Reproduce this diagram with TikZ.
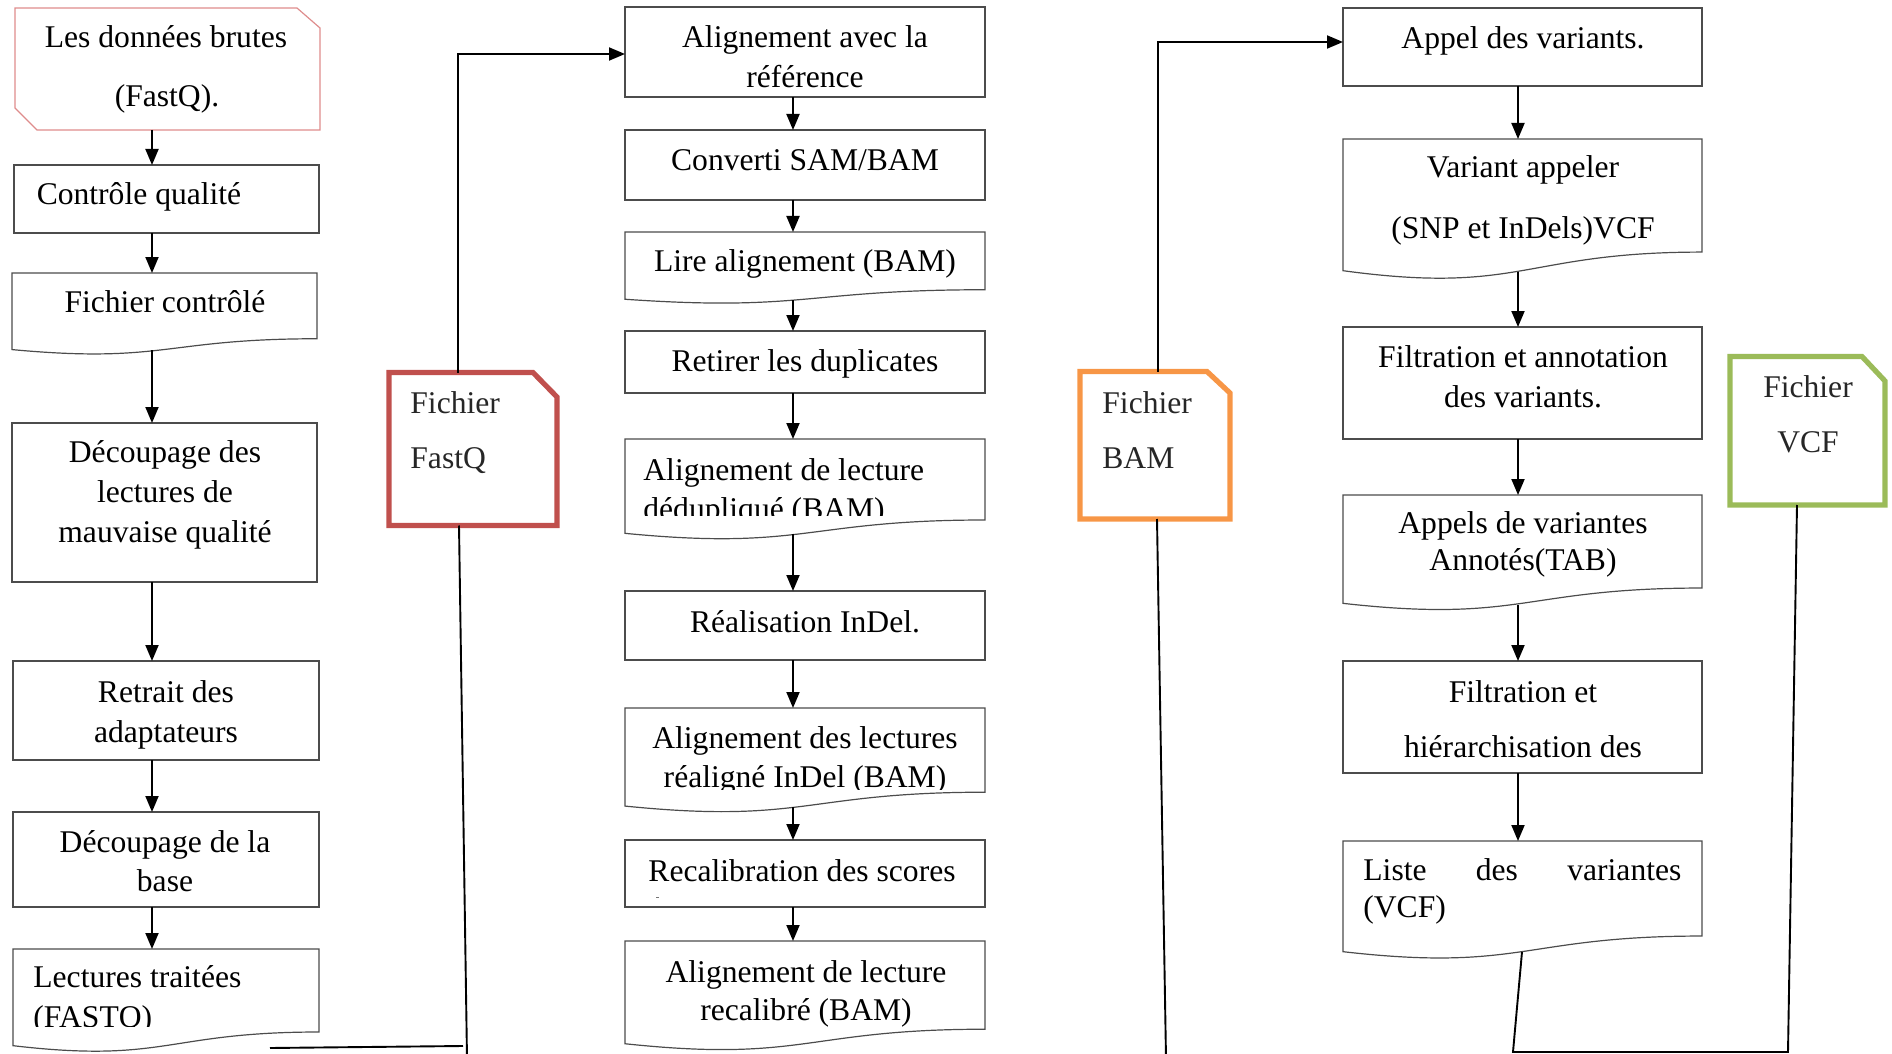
\documentclass[tikz,border=0pt]{standalone}
\usepackage{fontspec}
\setmainfont{Liberation Serif}
\usetikzlibrary{arrows.meta}

\definecolor{fqred}{HTML}{C0504D}
\definecolor{bamorange}{HTML}{F79646}
\definecolor{vcfgreen}{HTML}{9BBB59}
\definecolor{srcpink}{HTML}{DE8C8C}

\tikzset{
  pline/.style={draw=black!70, line width=0.6pt},
  pbox/.style={pline, rectangle, inner sep=0pt, outer sep=0pt},
  conn/.style={line width=0.95pt, black},
  arr/.style={conn, -{Triangle[width=6.5pt,length=8pt]}},
  txt/.style={anchor=base, inner sep=0pt, text=black, font=\fontsize{15.8}{19}\selectfont},
  ftxt/.style={txt, anchor=base west, text=black!85},
  fileline/.style={draw=#1, line width=2.6pt, line join=miter}
}

% process box: name, x0, y0, x1, y1 (pixel units, y downwards)
\newcommand{\procbox}[5]{%
  \node[pbox, minimum width={(#4-#2)*0.5pt}, minimum height={(#5-#3)*0.5pt}]
    (#1) at ({(#2+#4)/2},{(#3+#5)/2}) {};}

% document box with wavy bottom: name, x0, y0, x1, height, x of the flow line
\newcommand{\docbox}[6]{%
  \draw[pline] (#2,#3) -- (#4,#3) -- (#4,{#3+0.802*#5})
    .. controls ({(#2+#4)/2},{#3+0.802*#5}) and ({(#2+#4)/2},{#3+1.107*#5})
    .. (#2,{#3+0.934*#5}) -- cycle;
  \coordinate (#1-in) at (#6,#3);
  \coordinate (#1-out) at (#6,{#3+0.945*#5});}

\begin{document}
\begin{tikzpicture}[x=0.5pt, y=-0.5pt]
\useasboundingbox (0,0) rectangle (1892,1054);

% ---------------- left column ----------------
\draw[draw=srcpink, line width=0.6pt] (15,8) -- (297,8) -- (320,28) -- (320,130)
  -- (37,130) -- (15,108) -- cycle;
\coordinate (n1-out) at (152,130);
\node[txt] (n1a) at (166,48) {Les données brutes};
\node[txt] (n1b) at (167,107) {(FastQ).};

\procbox{n2}{14}{165}{319}{233}
\node[txt] (n2a) at (139,205) {Contrôle qualité};

\docbox{n3}{12}{273}{317}{82}{152}
\node[txt] (n3a) at (165,313) {Fichier contrôlé};

\procbox{n4}{12}{423}{317}{582}
\node[txt] (n4a) at (165,462) {Découpage des};
\node[txt] (n4b) at (165,502) {lectures de};
\node[txt] (n4c) at (165,542) {mauvaise qualité};

\procbox{n5}{13}{661}{319}{760}
\node[txt] (n5a) at (166,702) {Retrait des};
\node[txt] (n5b) at (166,742) {adaptateurs};

\procbox{n6}{13}{812}{319}{907}
\node[txt] (n6a) at (165,852) {Découpage de la};
\node[txt] (n6b) at (165,891) {base};

\docbox{n7}{13}{949}{319}{103.5}{152}
\node[txt, anchor=base west] (n7a) at (33,987) {Lectures traitées};
\begin{scope}
  \clip (0,0) rectangle (1892,1026);
  \node[txt, anchor=base west] (n7b) at (33,1027) {(FASTQ)};
\end{scope}
\coordinate (n7-tail) at (270,1048);

\coordinate (lx) at (152,0);
\draw[arr] (n1-out) -- (lx |- n2.north);
\draw[arr] (lx |- n2.south) -- (n3-in);
\draw[arr] (n3-out) -- (lx |- n4.north);
\draw[arr] (lx |- n4.south) -- (lx |- n5.north);
\draw[arr] (lx |- n5.south) -- (lx |- n6.north);
\draw[arr] (lx |- n6.south) -- (n7-in);

% ---------------- FastQ file ----------------
\draw[fileline=fqred] (389,372.5) -- (533,372.5) -- (557,397) -- (557,525.5)
  -- (389,525.5) -- cycle;
\coordinate (fq-top) at (458,372.5);
\coordinate (fq-bot) at (459,525.5);
\coordinate (fq-foot) at (467,1058);
\coordinate (fq-join) at (463,1046);
\node[ftxt] (fqa) at (410,413) {Fichier};
\node[ftxt] (fqb) at (410,468) {FastQ};

% ---------------- middle column ----------------
\procbox{m1}{625}{7}{985}{97}
\node[txt] (m1a) at (805,48) {Alignement avec la};
\node[txt] (m1b) at (805,88) {référence};

\procbox{m2}{625}{130}{985}{200}
\node[txt] (m2a) at (805,170) {Converti SAM/BAM};

\docbox{m3}{625}{232}{985}{72}{793}
\node[txt] (m3a) at (805,271) {Lire alignement (BAM)};

\procbox{m4}{625}{331}{985}{393}
\node[txt] (m4a) at (805,371) {Retirer les duplicates};

\docbox{m5}{625}{439}{985}{101}{793}
\node[txt, anchor=base west] (m5a) at (643,480) {Alignement de lecture};
\begin{scope}
  \clip (0,0) rectangle (1892,515);
  \node[txt, anchor=base west] (m5b) at (643,519) {dédupliqué (BAM)};
\end{scope}

\procbox{m6}{625}{591}{985}{660}
\node[txt] (m6a) at (805,632) {Réalisation InDel.};

\docbox{m7}{625}{708}{985}{105}{793}
\node[txt] (m7a) at (805,748) {Alignement des lectures};
\begin{scope}
  \clip (0,0) rectangle (1892,789);
  \node[txt] (m7b) at (805,787) {réaligné InDel (BAM)};
\end{scope}

\procbox{m8}{625}{840}{985}{907}
\node[txt] (m8a) at (802,881) {Recalibration des scores};
\draw[black!55, line width=0.4pt] (656,897) -- (659,897);

\docbox{m9}{625}{941}{985}{110}{793}
\node[txt] (m9a) at (806,982) {Alignement de lecture};
\node[txt] (m9b) at (806,1020) {recalibré (BAM)};

\coordinate (mx) at (793,0);
\draw[arr] (mx |- m1.south) -- (mx |- m2.north);
\draw[arr] (mx |- m2.south) -- (m3-in);
\draw[arr] (m3-out) -- (mx |- m4.north);
\draw[arr] (mx |- m4.south) -- (m5-in);
\draw[arr] (m5-out) -- (mx |- m6.north);
\draw[arr] (mx |- m6.south) -- (m7-in);
\draw[arr] (m7-out) -- (mx |- m8.north);
\draw[arr] (mx |- m8.south) -- (m9-in);

% FastQ file feeding the alignment step
\draw[conn] (n7-tail) -- (fq-join);
\draw[conn] (fq-bot) -- (fq-foot);
\draw[arr] (fq-top) |- ([yshift=-1pt]m1.west);

% ---------------- BAM file ----------------
\draw[fileline=bamorange] (1080,371.5) -- (1207,371.5) -- (1230,393) -- (1230,519)
  -- (1080,519) -- cycle;
\coordinate (bam-top) at (1158,371.5);
\coordinate (bam-bot) at (1157,519);
\coordinate (bam-foot) at (1166,1058);
\node[ftxt] (bama) at (1102,413) {Fichier};
\node[ftxt] (bamb) at (1102,468) {BAM};

% ---------------- right column ----------------
\procbox{r1}{1343}{8}{1702}{86}
\node[txt] (r1a) at (1523,49) {Appel des variants.};

\docbox{r2}{1343}{139}{1702}{141}{1518}
\node[txt] (r2a) at (1523,177) {Variant appeler};
\node[txt] (r2b) at (1523,239) {(SNP et InDels)VCF};

\procbox{r3}{1343}{327}{1702}{439}
\node[txt] (r3a) at (1523,367) {Filtration et annotation};
\node[txt] (r3b) at (1523,407) {des variants.};

\docbox{r4}{1343}{495}{1702}{116}{1518}
\node[txt] (r4a) at (1523,533) {Appels de variantes};
\node[txt] (r4b) at (1523,570) {Annotés(TAB)};

\procbox{r5}{1343}{661}{1702}{773}
\node[txt] (r5a) at (1523,702) {Filtration et};
\node[txt] (r5b) at (1523,757) {hiérarchisation des};

\docbox{r6}{1343}{841}{1702}{118.5}{1518}
\node[txt, anchor=base west] (r6a) at (1363,880) {\hbox to 159pt{Liste\hfill des\hfill variantes}};
\node[txt, anchor=base west] (r6b) at (1363,917) {(VCF)};
\coordinate (r6-tail) at (1522,952);

\coordinate (rx) at (1518,0);
\draw[arr] (rx |- r1.south) -- (r2-in);
\draw[arr] (r2-out) -- (rx |- r3.north);
\draw[arr] (rx |- r3.south) -- (r4-in);
\draw[arr] (r4-out) -- (rx |- r5.north);
\draw[arr] (rx |- r5.south) -- (r6-in);

% BAM file feeding the variant calling
\draw[conn] (bam-bot) -- (bam-foot);
\draw[arr] (bam-top) |- ([yshift=2.5pt]r1.west);

% ---------------- VCF file ----------------
\draw[fileline=vcfgreen] (1730,356.5) -- (1862,356.5) -- (1885,381) -- (1885,505)
  -- (1730,505) -- cycle;
\coordinate (vcf-bot) at (1797,505);
\node[txt] (vcfa) at (1808,397) {\color{black!85}Fichier};
\node[txt] (vcfb) at (1808,452) {\color{black!85}VCF};

\draw[conn] (r6-tail) -- (1513,1052) -- (1788,1052) -- (vcf-bot);

\end{tikzpicture}
\end{document}
